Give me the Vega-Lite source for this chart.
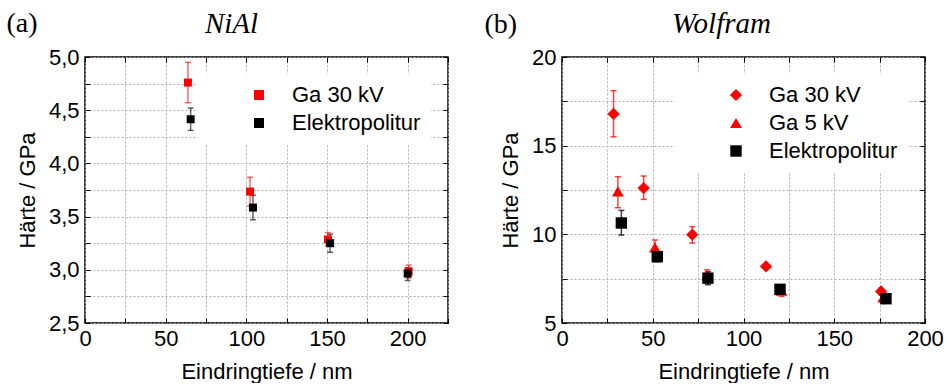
{
  "$schema": "https://vega.github.io/schema/vega-lite/v6.json",
  "padding": {"left": 5, "top": 8, "right": 0, "bottom": 0},
  "spacing": 33,
  "datasets": {
    "nial": [
      {"series": "Ga 30 kV", "x": 63.8, "y": 4.76, "lo": 4.57, "hi": 4.95},
      {"series": "Ga 30 kV", "x": 102.3, "y": 3.735, "lo": 3.6, "hi": 3.87},
      {"series": "Ga 30 kV", "x": 150.6, "y": 3.285, "lo": 3.225, "hi": 3.35},
      {"series": "Ga 30 kV", "x": 200.6, "y": 2.985, "lo": 2.925, "hi": 3.045},
      {"series": "Elektropolitur", "x": 65.5, "y": 4.415, "lo": 4.31, "hi": 4.52},
      {"series": "Elektropolitur", "x": 104.1, "y": 3.585, "lo": 3.47, "hi": 3.7},
      {"series": "Elektropolitur", "x": 151.9, "y": 3.25, "lo": 3.165, "hi": 3.335},
      {"series": "Elektropolitur", "x": 200.0, "y": 2.965, "lo": 2.9, "hi": 3.02}
    ],
    "wolfram": [
      {"series": "Ga 30 kV", "x": 28.4, "y": 16.79, "lo": 15.5, "hi": 18.1},
      {"series": "Ga 30 kV", "x": 45.0, "y": 12.61, "lo": 11.97, "hi": 13.29},
      {"series": "Ga 30 kV", "x": 71.8, "y": 9.98, "lo": 9.51, "hi": 10.43},
      {"series": "Ga 30 kV", "x": 112.4, "y": 8.19, "lo": 8.05, "hi": 8.33},
      {"series": "Ga 30 kV", "x": 175.8, "y": 6.78, "lo": 6.6, "hi": 6.95},
      {"series": "Ga 5 kV", "x": 30.8, "y": 12.42, "lo": 11.5, "hi": 13.25},
      {"series": "Ga 5 kV", "x": 51.2, "y": 9.27, "lo": 8.85, "hi": 9.68},
      {"series": "Ga 5 kV", "x": 80.0, "y": 7.7, "lo": 7.35, "hi": 8.0},
      {"series": "Ga 5 kV", "x": 121.0, "y": 6.82, "lo": 6.5, "hi": 7.1},
      {"series": "Ga 5 kV", "x": 177.0, "y": 6.45, "lo": 6.1, "hi": 6.75},
      {"series": "Elektropolitur", "x": 32.7, "y": 10.64, "lo": 9.96, "hi": 11.35},
      {"series": "Elektropolitur", "x": 52.5, "y": 8.74, "lo": 8.45, "hi": 9.0},
      {"series": "Elektropolitur", "x": 80.4, "y": 7.53, "lo": 7.16, "hi": 7.89},
      {"series": "Elektropolitur", "x": 120.1, "y": 6.9, "lo": 6.7, "hi": 7.1},
      {"series": "Elektropolitur", "x": 178.5, "y": 6.37, "lo": 6.2, "hi": 6.55}
    ]
  },
  "hconcat": [
    {
      "width": 363,
      "height": 266,
      "data": {"name": "nial"},
      "resolve": {"axis": {"x": "independent", "y": "independent"}},
      "layer": [
        {
          "mark": {"type": "point", "opacity": 0},
          "encoding": {
            "x": {"field": "x", "type": "quantitative", "scale": {"domain": [0, 225], "nice": false, "zero": false},
              "axis": {"orient": "top", "values": [0, 25, 50, 75, 100, 125, 150, 175, 200, 225], "labels": false, "grid": false, "domain": false,
                "title": "NiAl", "titleFont": "Liberation Serif", "titleFontStyle": "italic", "titleFontSize": 29, "titleFontWeight": "normal",
                "titleX": 146, "titleY": -25, "titleAlign": "center", "titleBaseline": "alphabetic"}},
            "y": {"field": "y", "type": "quantitative", "scale": {"domain": [2.5, 5.0], "nice": false, "zero": false},
              "axis": {"orient": "right", "values": [2.5, 2.75, 3.0, 3.25, 3.5, 3.75, 4.0, 4.25, 4.5, 4.75, 5.0], "labels": false, "grid": false, "domain": false,
                "title": "(a)", "titleFont": "Liberation Serif", "titleFontSize": 28, "titleFontWeight": "normal", "titleAngle": 0,
                "titleX": -442, "titleY": -26, "titleAlign": "left", "titleBaseline": "alphabetic"}}
          }
        },
        {
          "mark": {"type": "errorbar", "ticks": {"opacity": 0.6}, "rule": {"opacity": 0.6}, "size": 6, "thickness": 1.5},
          "encoding": {
            "x": {"field": "x", "type": "quantitative", "axis": null},
            "y": {"field": "lo", "type": "quantitative", "axis": null},
            "y2": {"field": "hi"},
            "color": {"field": "series", "type": "nominal", "legend": {"title": null}}
          }
        },
        {
          "mark": {"type": "point", "filled": true, "opacity": 1, "size": 64},
          "encoding": {
            "x": {"field": "x", "type": "quantitative", "scale": {"domain": [0, 225], "nice": false, "zero": false},
              "axis": {"orient": "bottom", "grid": true, "values": [0, 25, 50, 75, 100, 125, 150, 175, 200, 225],
                "labelExpr": "datum.value % 50 == 0 ? datum.label : ''", "title": "Eindringtiefe / nm"}},
            "y": {"field": "y", "type": "quantitative", "scale": {"domain": [2.5, 5.0], "nice": false, "zero": false},
              "axis": {"orient": "left", "grid": true, "values": [2.5, 2.75, 3.0, 3.25, 3.5, 3.75, 4.0, 4.25, 4.5, 4.75, 5.0],
                "labelExpr": "round(datum.value*4) % 2 == 0 ? replace(format(datum.value, '.1f'), '.', ',') : ''", "title": "Härte / GPa"}},
            "color": {"field": "series", "type": "nominal", "scale": {"domain": ["Ga 30 kV", "Elektropolitur"], "range": ["#ff0000", "#000000"]}, "legend": {"title": null}},
            "shape": {"field": "series", "type": "nominal", "scale": {"domain": ["Ga 30 kV", "Elektropolitur"], "range": ["square", "square"]}, "legend": {"title": null}}
          }
        }
      ]
    },
    {
      "width": 363,
      "height": 266,
      "data": {"name": "wolfram"},
      "resolve": {"axis": {"x": "independent", "y": "independent"}},
      "layer": [
        {
          "mark": {"type": "point", "opacity": 0},
          "encoding": {
            "x": {"field": "x", "type": "quantitative", "scale": {"domain": [0, 200], "nice": false, "zero": false},
              "axis": {"orient": "top", "values": [0, 25, 50, 75, 100, 125, 150, 175, 200], "labels": false, "grid": false, "domain": false,
                "title": "Wolfram", "titleFont": "Liberation Serif", "titleFontStyle": "italic", "titleFontSize": 29, "titleFontWeight": "normal",
                "titleX": 159, "titleY": -25, "titleAlign": "center", "titleBaseline": "alphabetic"}},
            "y": {"field": "y", "type": "quantitative", "scale": {"domain": [5, 20], "nice": false, "zero": false},
              "axis": {"orient": "right", "values": [5, 7.5, 10, 12.5, 15, 17.5, 20], "labels": false, "grid": false, "domain": false,
                "title": "(b)", "titleFont": "Liberation Serif", "titleFontSize": 28, "titleFontWeight": "normal", "titleAngle": 0,
                "titleX": -441, "titleY": -25, "titleAlign": "left", "titleBaseline": "alphabetic"}}
          }
        },
        {
          "mark": {"type": "errorbar", "ticks": {"opacity": 0.75}, "rule": {"opacity": 0.75}, "size": 6, "thickness": 1.5},
          "encoding": {
            "x": {"field": "x", "type": "quantitative", "axis": null},
            "y": {"field": "lo", "type": "quantitative", "axis": null},
            "y2": {"field": "hi"},
            "color": {"field": "series", "type": "nominal", "legend": {"title": null}}
          }
        },
        {
          "mark": {"type": "point", "filled": true, "opacity": 1},
          "encoding": {
            "x": {"field": "x", "type": "quantitative", "scale": {"domain": [0, 200], "nice": false, "zero": false},
              "axis": {"orient": "bottom", "grid": true, "values": [0, 25, 50, 75, 100, 125, 150, 175, 200],
                "labelExpr": "datum.value % 50 == 0 ? datum.label : ''", "title": "Eindringtiefe / nm"}},
            "y": {"field": "y", "type": "quantitative", "scale": {"domain": [5, 20], "nice": false, "zero": false},
              "axis": {"orient": "left", "grid": true, "values": [5, 7.5, 10, 12.5, 15, 17.5, 20],
                "labelExpr": "datum.value % 5 == 0 ? format(datum.value, 'd') : ''", "title": "Härte / GPa"}},
            "color": {"field": "series", "type": "nominal", "scale": {"domain": ["Ga 30 kV", "Ga 5 kV", "Elektropolitur"], "range": ["#ff0000", "#ff0000", "#000000"]}, "legend": {"title": null}},
            "shape": {"field": "series", "type": "nominal", "scale": {"domain": ["Ga 30 kV", "Ga 5 kV", "Elektropolitur"], "range": ["diamond", "triangle-up", "square"]}, "legend": {"title": null}},
            "size": {"field": "series", "type": "nominal", "scale": {"domain": ["Ga 30 kV", "Ga 5 kV", "Elektropolitur"], "range": [150, 130, 70]}, "legend": {"title": null}}
          }
        }
      ]
    }
  ],
  "resolve": {
    "scale": {"x": "independent", "y": "independent", "color": "independent", "shape": "independent", "size": "independent"},
    "legend": {"color": "independent", "shape": "independent", "size": "independent"}
  },
  "config": {
    "font": "Liberation Sans",
    "view": {"stroke": "#000000", "strokeWidth": 1.5},
    "axis": {
      "domain": false,
      "gridColor": "#b0b0b0",
      "gridDash": [2, 2],
      "gridWidth": 1,
      "tickSize": -5,
      "tickColor": "#000000",
      "tickWidth": 1,
      "labelFont": "Liberation Sans",
      "labelFontSize": 22,
      "labelColor": "#000000",
      "labelFlush": false,
      "labelOverlap": false,
      "titleFont": "Liberation Sans",
      "titleFontSize": 22,
      "titleFontWeight": "normal",
      "titleColor": "#000000"
    },
    "axisBottom": {"labelPadding": 10, "titlePadding": 12},
    "axisLeft": {"labelPadding": 11, "titlePadding": 9},
    "legend": {
      "orient": "top-right",
      "offset": 17,
      "padding": 10,
      "fillColor": "#ffffff",
      "labelFont": "Liberation Sans",
      "labelFontSize": 22,
      "labelColor": "#000000",
      "labelOffset": 22,
      "symbolOffset": 40,
      "symbolOpacity": 1,
      "rowPadding": 6,
      "symbolStrokeWidth": 0
    }
  }
}
